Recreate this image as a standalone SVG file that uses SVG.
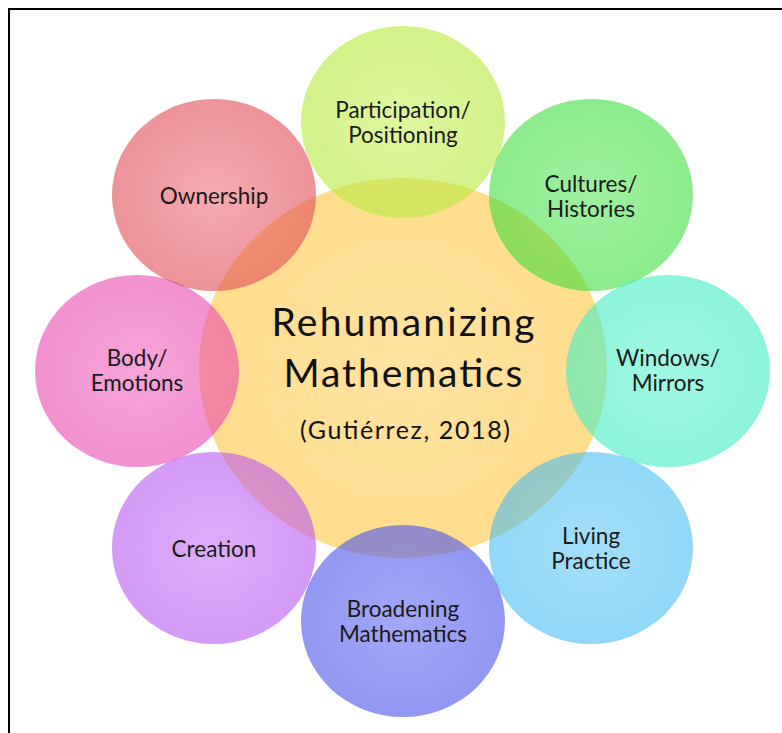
<svg xmlns="http://www.w3.org/2000/svg" width="782" height="733" viewBox="0 0 782 733">
<style>
.lbl{font-family:Lato,"Open Sans","Liberation Sans",sans-serif;font-size:22.5px;fill:#1a1a1a;text-anchor:middle}
.big{font-family:Lato,"Open Sans","Liberation Sans",sans-serif;font-size:39px;fill:#111;text-anchor:middle}
.cite{font-family:Lato,"Open Sans","Liberation Sans",sans-serif;font-size:25px;fill:#111;text-anchor:middle}
</style>
<defs>
<radialGradient id="gC"><stop offset="0" stop-color="#ffcc55" stop-opacity="0.55"/><stop offset="1" stop-color="#ffc845" stop-opacity="0.62"/></radialGradient>
<radialGradient id="gOwn"><stop offset="0" stop-color="#e8505a" stop-opacity="0.48"/><stop offset="1" stop-color="#e04c55" stop-opacity="0.6"/></radialGradient>
<radialGradient id="gPar"><stop offset="0" stop-color="#bfee48" stop-opacity="0.52"/><stop offset="1" stop-color="#b8ea40" stop-opacity="0.62"/></radialGradient>
<radialGradient id="gCul"><stop offset="0" stop-color="#40e040" stop-opacity="0.5"/><stop offset="1" stop-color="#38dc38" stop-opacity="0.58"/></radialGradient>
<radialGradient id="gWin"><stop offset="0" stop-color="#48f0c8" stop-opacity="0.52"/><stop offset="1" stop-color="#40ecc2" stop-opacity="0.6"/></radialGradient>
<radialGradient id="gLiv"><stop offset="0" stop-color="#50c0f4" stop-opacity="0.52"/><stop offset="1" stop-color="#48bcf0" stop-opacity="0.6"/></radialGradient>
<radialGradient id="gBro"><stop offset="0" stop-color="#5660ee" stop-opacity="0.55"/><stop offset="1" stop-color="#4e58ea" stop-opacity="0.62"/></radialGradient>
<radialGradient id="gCre"><stop offset="0" stop-color="#c060f4" stop-opacity="0.52"/><stop offset="1" stop-color="#b858f0" stop-opacity="0.6"/></radialGradient>
<radialGradient id="gBod"><stop offset="0" stop-color="#ee50b8" stop-opacity="0.52"/><stop offset="1" stop-color="#ea48b2" stop-opacity="0.6"/></radialGradient>
</defs>
<rect x="0" y="0" width="782" height="733" fill="#fff"/>
<rect x="9" y="9" width="790" height="740" fill="none" stroke="#000" stroke-width="2"/>
<g id="center">
<ellipse cx="403" cy="368" rx="204" ry="190" fill="url(#gC)"/>
</g>
<g id="participation">
<ellipse cx="403" cy="122" rx="102" ry="96" fill="url(#gPar)"/>
<text class="lbl" x="403" y="118">Participation/</text>
<text class="lbl" x="403" y="143">Positioning</text>
</g>
<g id="cultures">
<ellipse cx="591" cy="195" rx="102" ry="96" fill="url(#gCul)"/>
<text class="lbl" x="591" y="192">Cultures/</text>
<text class="lbl" x="591" y="217">Histories</text>
</g>
<g id="windows">
<ellipse cx="668" cy="371" rx="102" ry="96" fill="url(#gWin)"/>
<text class="lbl" x="668" y="366">Windows/</text>
<text class="lbl" x="668" y="391">Mirrors</text>
</g>
<g id="living">
<ellipse cx="591" cy="548" rx="102" ry="96" fill="url(#gLiv)"/>
<text class="lbl" x="591" y="544">Living</text>
<text class="lbl" x="591" y="569">Practice</text>
</g>
<g id="broadening">
<ellipse cx="403" cy="621" rx="102" ry="96" fill="url(#gBro)"/>
<text class="lbl" x="403" y="617">Broadening</text>
<text class="lbl" x="403" y="642">Mathematics</text>
</g>
<g id="creation">
<ellipse cx="214" cy="548" rx="102" ry="96" fill="url(#gCre)"/>
<text class="lbl" x="214" y="557">Creation</text>
</g>
<g id="body">
<ellipse cx="137" cy="371" rx="102" ry="96" fill="url(#gBod)"/>
<text class="lbl" x="137" y="366">Body/</text>
<text class="lbl" x="137" y="391">Emotions</text>
</g>
<g id="ownership">
<ellipse cx="214" cy="195" rx="102" ry="96" fill="url(#gOwn)"/>
<text class="lbl" x="214" y="204">Ownership</text>
</g>
<g id="title">
<text class="big" x="403" y="336" textLength="263" lengthAdjust="spacing">Rehumanizing</text>
<text class="big" x="403" y="387" textLength="239" lengthAdjust="spacing">Mathematics</text>
<text class="cite" x="405" y="439" textLength="210" lengthAdjust="spacing">(Gutiérrez, 2018)</text>
</g>
<g id="connectors"/>
</svg>
